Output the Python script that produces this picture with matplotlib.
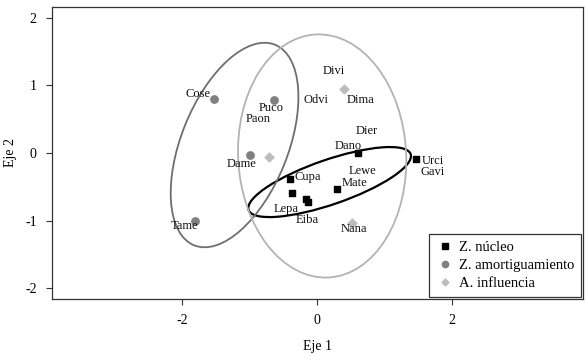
import matplotlib
matplotlib.use("Agg")
import matplotlib.pyplot as plt
from matplotlib.patches import Ellipse
from matplotlib.lines import Line2D

plt.rcParams['font.family'] = ['Liberation Serif', 'DejaVu Serif']
plt.rcParams['axes.unicode_minus'] = False

# group points (Eje 1, Eje 2)
nucleo_x = [0.60, 1.46, -0.40, -0.38, -0.16, -0.13, 0.30]
nucleo_y = [0.00, -0.09, -0.38, -0.59, -0.68, -0.73, -0.53]
amort_x = [-1.53, -0.64, -0.99, -1.81]
amort_y = [0.80, 0.78, -0.03, -1.00]
influ_x = [0.40, -0.71, 0.51]
influ_y = [0.95, -0.06, -1.04]

# site labels and where they sit
site_names = ["Cose", "Puco", "Paon", "Dame", "Tame", "Divi", "Odvi", "Dima", "Dier",
              "Dano", "Cupa", "Lewe", "Mate", "Lepa", "Eiba", "Nana", "Urci", "Gavi"]
site_x = [-1.76, -0.68, -0.87, -1.12, -1.96, 0.24, -0.01, 0.64, 0.74,
          0.46, -0.14, 0.67, 0.55, -0.46, -0.14, 0.55, 1.71, 1.71]
site_y = [0.88, 0.66, 0.50, -0.16, -1.08, 1.22, 0.78, 0.78, 0.33,
          0.10, -0.36, -0.26, -0.44, -0.83, -0.99, -1.13, -0.12, -0.28]

# ellipses: center x, center y, width, height, angle
ell_center_x = [0.185, -1.224, 0.074]
ell_center_y = [-0.43, 0.118, -0.044]
ell_width = [2.54, 3.20, 2.49]
ell_height = [0.66, 1.58, 3.60]
ell_angle = [19, 68, 3]
ell_colors = ['black', '#6e6e6e', '#b3b3b3']
ell_lw = [1.6, 1.3, 1.3]

fig = plt.figure(figsize=(5.88, 3.62), dpi=100)
ax = fig.add_axes([0.0884, 0.174, 0.9031, 0.8067])

for i in range(3):
    e = Ellipse((ell_center_x[i], ell_center_y[i]), ell_width[i], ell_height[i],
                angle=ell_angle[i], fill=False, edgecolor=ell_colors[i], linewidth=ell_lw[i])
    ax.add_patch(e)

ax.scatter(nucleo_x, nucleo_y, marker='s', s=20, color='black', zorder=3)
ax.scatter(amort_x, amort_y, marker='o', s=28, color='#808080', zorder=3)
ax.scatter(influ_x, influ_y, marker='D', s=20, color='#bdbdbd', zorder=3)

for name, x, y in zip(site_names, site_x, site_y):
    ax.text(x, y, name, fontsize=9, ha='center', va='center', color='#111111')

ax.set_xlim(-3.93, 3.94)
ax.set_ylim(-2.16, 2.16)
ax.set_xticks([-2, 0, 2])
ax.set_yticks([-2, -1, 0, 1, 2])
ax.tick_params(direction='out', length=4, width=0.8, labelsize=10, pad=7, color='#333333')
for sp in ax.spines.values():
    sp.set_color('#333333')
    sp.set_linewidth(0.9)
ax.set_xlabel("Eje 1", fontsize=10, labelpad=9)
ax.set_ylabel("Eje 2", fontsize=10, labelpad=6)

handles = [
    Line2D([], [], marker='s', color='black', linestyle='none', markersize=4),
    Line2D([], [], marker='o', color='#808080', linestyle='none', markersize=4.5),
    Line2D([], [], marker='D', color='#bdbdbd', linestyle='none', markersize=3.5),
]
leg = ax.legend(handles, ["Z. núcleo", "Z. amortiguamiento", "A. influencia"],
                loc='lower right', fontsize=10.5, fancybox=False, framealpha=1,
                edgecolor='#333333', borderaxespad=0.15, labelspacing=0.35,
                handletextpad=0.3, borderpad=0.45, handlelength=1.3)
leg.get_frame().set_linewidth(0.9)

fig.savefig("out.png", dpi=100)
